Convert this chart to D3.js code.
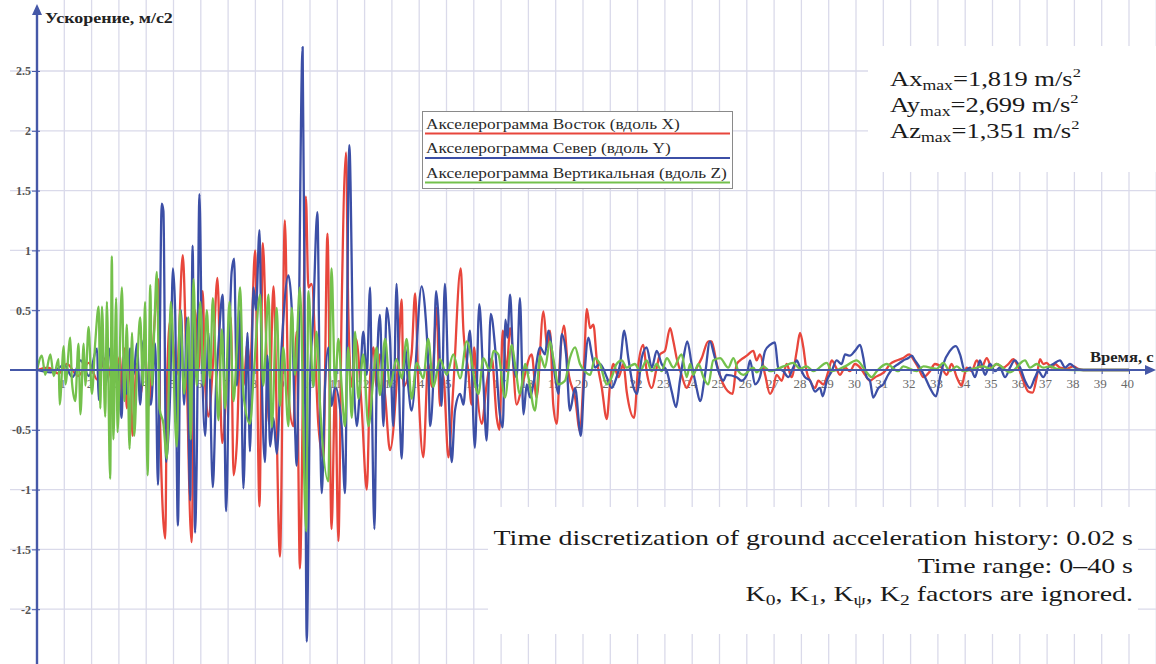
<!DOCTYPE html>
<html>
<head>
<meta charset="utf-8">
<script src="https://cdn.jsdelivr.net/npm/d3@7"></script>
<style>
  body { margin: 0; background: #fff; }
  svg { display: block; }
  svg text { font-family: "Liberation Serif", "Tinos", "DejaVu Serif", serif; }
</style>
</head>
<body>
<svg id="chart"></svg>
<script>
// accelerograms, turning points: [time s, acceleration m/s2]
var eastX = [[0,0],[0.4,0.02],[0.8,-0.03],[1.1,0.05],[1.5,-0.05],[1.9,0.06],[2.2,-0.08],[2.5,0.1],[2.8,-0.12],[3.05,0.12],[3.11,-0.26],[3.21,0.18],[3.29,-0.32],[3.4,0.1],[3.5,-0.55],[3.65,0.05],[3.8,-0.2],[3.95,0.15],[4.1,-0.3],[4.25,0.2],[4.45,0.76],[4.51,-0.45],[4.7,-1.41],[4.76,-0.13],[4.88,0.41],[5.12,-0.04],[5.34,0.96],[5.46,0.18],[5.66,-1.44],[5.79,0.5],[5.91,-0.01],[6.07,0.66],[6.16,-0.13],[6.28,-0.39],[6.44,0.03],[6.61,0.77],[6.78,-0.61],[6.98,0.0],[7.1,0.44],[7.2,-0.88],[7.32,-0.61],[7.46,0.31],[7.56,-0.13],[7.71,0.22],[7.8,0.0],[7.99,1.0],[8.15,-1.14],[8.27,1.06],[8.41,0.12],[8.5,-0.45],[8.66,0.7],[8.9,-1.56],[9.08,1.25],[9.21,-0.21],[9.39,-0.47],[9.51,0.32],[9.63,-1.66],[9.85,1.45],[9.94,0.69],[10.06,0.72],[10.31,-0.47],[10.49,-0.74],[10.64,1.14],[10.79,-1.33],[10.92,-0.14],[11.04,-1.43],[11.16,0.52],[11.32,1.82],[11.4,0.52],[11.53,-0.14],[11.69,0.26],[11.89,-0.3],[12.08,-1.0],[12.2,-0.07],[12.32,0.19],[12.44,-0.14],[12.56,0.13],[12.75,-0.21],[12.93,-0.67],[13.24,0.13],[13.36,0.59],[13.42,-0.14],[13.72,0.13],[13.85,0.64],[13.97,-0.14],[14.15,-0.73],[14.33,0.06],[14.46,-0.14],[14.64,0.52],[14.76,-0.3],[14.88,-0.04],[15.07,-0.73],[15.25,-0.14],[15.52,0.85],[15.62,0.33],[15.8,-0.01],[15.92,-0.29],[16.01,0.19],[16.11,-0.15],[16.29,-0.45],[16.47,-0.12],[16.66,0.1],[16.84,-0.4],[16.94,-0.5],[17.06,0.33],[17.2,-0.01],[17.33,0.35],[17.57,-0.29],[17.75,-0.15],[18.12,0.13],[18.3,-0.23],[18.55,0.49],[18.69,0.19],[18.79,0.33],[18.91,-0.29],[19.04,-0.45],[19.16,0.1],[19.3,0.37],[19.46,-0.01],[19.71,-0.23],[19.89,-0.51],[20.04,0.05],[20.14,0.51],[20.26,0.35],[20.38,0.38],[20.5,0.1],[20.69,-0.15],[20.87,-0.41],[20.99,-0.12],[21.11,0.05],[21.3,-0.06],[21.48,0.05],[21.6,-0.18],[21.87,-0.4],[22.03,0.05],[22.21,0.21],[22.33,-0.01],[22.52,-0.15],[22.7,0.02],[22.82,0.13],[23.0,0.16],[23.19,0.35],[23.31,0.24],[23.43,0.1],[23.61,-0.04],[23.8,-0.15],[23.98,-0.06],[24.35,0.1],[24.59,0.24],[24.71,0.24],[24.9,0.05],[25.14,-0.12],[25.48,-0.2],[25.63,0.05],[25.81,0.09],[26.0,0.12],[26.24,0.16],[26.36,0.08],[26.48,0.13],[26.67,-0.04],[26.85,-0.2],[26.97,-0.15],[27.09,-0.04],[27.28,-0.09],[27.46,0.05],[27.64,-0.06],[27.83,0.16],[27.95,0.31],[28.07,0.19],[28.19,-0.01],[28.32,-0.09],[28.5,-0.15],[28.62,-0.09],[28.8,-0.12],[28.99,-0.01],[29.11,0.08],[29.27,0.02],[29.41,-0.04],[29.6,0.02],[29.78,-0.01],[29.96,0.05],[30.15,0.02],[30.33,-0.04],[30.51,-0.09],[30.7,-0.06],[30.88,-0.04],[31.06,-0.01],[31.25,0.05],[31.49,0.08],[31.73,0.1],[31.95,0.13],[32.1,0.09],[32.28,0.02],[32.47,-0.06],[32.71,-0.01],[32.89,0.05],[33.14,0.02],[33.32,-0.04],[33.5,0.05],[33.69,-0.06],[33.87,-0.13],[34.05,0.02],[34.24,-0.01],[34.42,0.08],[34.6,0.02],[34.79,0.1],[34.97,0.02],[35.15,0.05],[35.4,0.02],[35.58,0.05],[35.76,0.09],[35.95,0.02],[36.13,-0.09],[36.31,-0.18],[36.47,-0.19],[36.62,-0.06],[36.74,0.09],[36.86,0.05],[36.98,0.06],[37.17,0.02],[37.29,0.05],[37.47,0.02],[37.72,0.01],[37.96,0.03],[38.14,0.01],[38.33,0],[40,0]];

var northY = [[0,0],[0.5,-0.02],[1.0,0.04],[1.3,-0.06],[1.6,0.08],[1.9,-0.05],[2.2,0.18],[2.26,-0.25],[2.38,0.22],[2.5,-0.13],[2.68,0.18],[2.8,-0.13],[2.95,0.05],[3.1,-0.4],[3.17,0.12],[3.29,-0.2],[3.41,0.18],[3.54,-0.04],[3.66,0.22],[3.78,-0.29],[3.9,0.25],[4.02,-0.07],[4.17,-0.29],[4.33,0.22],[4.43,-0.96],[4.57,1.39],[4.63,1.33],[4.73,-0.77],[4.88,-0.17],[4.98,0.85],[5.06,0.5],[5.16,-1.3],[5.27,0.5],[5.39,-0.29],[5.49,0.44],[5.61,-1.09],[5.7,1.04],[5.79,-1.36],[5.85,-0.77],[5.95,1.47],[6.04,0.18],[6.16,-0.55],[6.28,0.31],[6.44,-0.98],[6.56,-0.13],[6.65,0.22],[6.8,0.63],[6.93,-1.18],[7.05,0.28],[7.13,0.82],[7.22,0.93],[7.32,-0.13],[7.44,0.5],[7.56,-0.99],[7.71,0.31],[7.8,-0.68],[7.93,0.69],[8.02,0.5],[8.15,1.17],[8.23,-0.01],[8.35,-0.77],[8.44,0.12],[8.54,-0.64],[8.66,-0.4],[8.78,-0.7],[8.96,0.19],[9.21,0.79],[9.33,0.52],[9.45,-0.47],[9.51,-0.8],[9.73,2.7],[9.82,-0.14],[9.88,-2.27],[10.0,-0.14],[10.12,0.46],[10.27,1.32],[10.37,-0.47],[10.43,-1.03],[10.55,-0.14],[10.67,0.19],[10.79,-0.3],[10.92,-0.14],[11.16,-0.47],[11.28,-1.03],[11.44,1.88],[11.59,0.03],[11.71,-0.47],[11.83,-0.14],[11.95,0.32],[12.08,-0.04],[12.2,0.69],[12.26,-0.14],[12.36,-1.33],[12.44,-0.14],[12.56,0.46],[12.69,-0.47],[12.81,0.52],[12.93,0.26],[13.05,-0.47],[13.17,0.72],[13.3,-0.47],[13.36,-0.74],[13.48,0.19],[13.6,-0.14],[13.72,-0.34],[14.09,0.7],[14.21,0.52],[14.34,-0.01],[14.4,-0.47],[14.52,-0.07],[14.62,0.66],[14.7,0.46],[14.82,-0.3],[14.94,0.72],[15.07,-0.14],[15.19,-0.77],[15.31,-0.34],[15.5,-0.2],[15.62,-0.29],[15.74,0.05],[15.86,0.33],[16.04,-0.65],[16.2,0.55],[16.35,-0.09],[16.47,-0.59],[16.62,0.47],[16.78,0.19],[16.94,-0.34],[17.06,-0.48],[17.16,0.42],[17.23,0.27],[17.33,0.63],[17.45,0.05],[17.57,-0.06],[17.69,0.6],[17.82,-0.37],[17.94,-0.12],[18.06,-0.23],[18.18,-0.12],[18.43,0.19],[18.61,0.13],[18.73,0.33],[18.98,-0.06],[19.1,-0.2],[19.22,0.3],[19.38,0.13],[19.52,-0.34],[19.71,-0.15],[19.92,-0.55],[20.04,-0.09],[20.2,0.27],[20.32,0.13],[20.44,0.02],[20.62,0.05],[20.87,-0.06],[21.05,-0.15],[21.23,-0.06],[21.36,0.05],[21.51,0.33],[21.66,0.1],[21.82,-0.12],[21.97,-0.2],[22.15,0.1],[22.33,0.19],[22.52,0.02],[22.7,0.16],[22.88,0.05],[23.07,-0.01],[23.25,-0.18],[23.41,-0.31],[23.55,-0.09],[23.68,0.1],[23.82,0.24],[23.98,0.05],[24.16,-0.15],[24.29,-0.26],[24.47,-0.04],[24.65,0.24],[24.8,0.13],[24.96,-0.01],[25.14,-0.09],[25.26,-0.04],[25.63,-0.06],[25.81,-0.09],[26.0,-0.04],[26.12,0.08],[26.3,-0.12],[26.48,-0.06],[26.67,0.16],[26.85,0.21],[27.03,0.23],[27.15,0.02],[27.34,-0.01],[27.52,-0.06],[27.7,0.02],[27.83,0.08],[27.95,0.02],[28.13,-0.06],[28.32,-0.09],[28.5,-0.18],[28.68,-0.15],[28.78,-0.22],[28.93,-0.09],[29.11,-0.01],[29.29,0.08],[29.47,0.05],[29.6,0.13],[29.78,0.12],[29.96,0.16],[30.15,0.21],[30.27,0.1],[30.39,-0.06],[30.51,-0.09],[30.63,-0.23],[30.82,-0.15],[31.0,-0.12],[31.18,-0.04],[31.37,0.02],[31.55,0.05],[31.73,0.08],[31.92,0.1],[32.04,0.12],[32.16,0.08],[32.34,0.02],[32.53,-0.06],[32.71,-0.15],[32.93,-0.22],[33.08,-0.06],[33.2,0.05],[33.44,0.16],[33.66,0.2],[33.81,0.13],[33.99,-0.01],[34.18,0.02],[34.36,-0.06],[34.54,0.08],[34.73,-0.04],[34.91,0.05],[35.09,-0.01],[35.27,0.02],[35.46,-0.06],[35.64,0.02],[35.82,0.08],[36.01,0.02],[36.19,-0.09],[36.37,-0.15],[36.56,-0.06],[36.68,-0.01],[36.86,-0.06],[37.04,0.02],[37.23,0.05],[37.47,0.08],[37.66,0.02],[37.84,0.05],[38.08,0.01],[38.33,0],[40,0]];

var vertZ = [[0,0],[0.18,0.12],[0.3,-0.04],[0.49,0.13],[0.61,-0.05],[0.79,0.09],[0.83,-0.29],[0.98,0.2],[1.04,-0.12],[1.22,0.27],[1.28,-0.1],[1.4,-0.26],[1.52,0.22],[1.59,-0.37],[1.71,0.22],[1.77,-0.13],[1.89,0.36],[2.01,-0.2],[2.13,0.22],[2.26,0.53],[2.32,-0.32],[2.38,0.53],[2.5,-0.39],[2.56,0.57],[2.68,-0.91],[2.74,0.95],[2.8,-0.58],[2.9,0.6],[2.95,-0.52],[3.11,0.69],[3.2,-0.26],[3.29,0.38],[3.39,-0.66],[3.48,0.31],[3.56,-0.55],[3.68,0.09],[3.78,0.44],[3.88,-0.13],[3.96,0.57],[4.05,-0.88],[4.15,0.71],[4.21,-0.13],[4.29,0.31],[4.39,0.82],[4.49,-0.32],[4.63,-0.45],[4.76,-0.74],[4.9,0.57],[5.12,-0.64],[5.24,0.5],[5.39,-0.2],[5.55,0.44],[5.63,-0.58],[5.73,0.76],[5.85,-0.13],[5.98,0.57],[6.1,-0.13],[6.22,0.5],[6.34,-0.07],[6.44,0.6],[6.56,-0.04],[6.65,-0.42],[6.77,0.34],[6.89,-0.32],[7.05,0.57],[7.2,-0.26],[7.32,0.18],[7.44,0.69],[7.56,-0.2],[7.8,-0.45],[7.95,0.0],[8.17,0.63],[8.29,-0.13],[8.48,0.63],[8.6,-0.48],[8.78,0.52],[8.9,-0.3],[9.02,0.19],[9.21,-0.47],[9.33,0.52],[9.45,-0.04],[9.63,0.69],[9.86,-1.35],[9.94,0.66],[10.12,-0.14],[10.24,0.32],[10.37,-0.3],[10.67,-0.93],[10.79,0.85],[10.92,-0.14],[11.04,0.26],[11.16,-0.14],[11.28,-0.47],[11.4,0.19],[11.53,-0.4],[11.65,0.32],[11.77,-0.24],[11.95,0.13],[12.14,-0.47],[12.32,-0.07],[12.44,0.19],[12.56,-0.21],[12.75,0.26],[12.93,-0.14],[13.17,0.09],[13.36,-0.07],[13.54,0.26],[13.72,-0.24],[13.91,0.06],[14.15,-0.07],[14.33,0.26],[14.52,-0.14],[14.76,0.09],[15.01,-0.04],[15.25,0.13],[15.5,-0.07],[15.74,0.24],[16.17,-0.2],[16.35,0.1],[16.59,-0.01],[16.72,0.16],[16.9,0.13],[17.14,-0.23],[17.39,0.21],[17.51,0.05],[17.69,-0.2],[17.88,0.05],[18.0,-0.06],[18.24,-0.34],[18.43,0.12],[18.61,0.02],[18.79,0.24],[18.91,0.1],[19.1,-0.12],[19.34,-0.09],[19.52,0.1],[19.71,0.19],[19.89,0.05],[20.07,-0.01],[20.26,-0.04],[20.44,0.1],[20.62,0.05],[20.87,-0.12],[21.05,-0.06],[21.23,0.05],[21.42,0.08],[21.6,0.02],[21.9,0.05],[22.09,-0.01],[22.33,0.08],[22.52,-0.01],[22.7,0.05],[22.88,-0.01],[23.07,0.1],[23.31,0.02],[23.61,0.13],[23.8,-0.06],[23.92,0.05],[24.04,-0.04],[24.23,0.05],[24.41,-0.06],[24.59,-0.12],[24.77,0.08],[25.02,0.1],[25.32,0.02],[25.51,0.1],[25.69,-0.01],[25.87,-0.04],[26.24,0.02],[26.36,-0.02],[26.61,0.03],[26.85,-0.01],[27.34,0.03],[27.7,0.06],[27.95,0.01],[28.19,0.03],[28.44,-0.01],[28.93,0.06],[29.11,-0.01],[29.6,0.03],[30.02,0.08],[30.39,-0.02],[30.57,-0.06],[30.76,-0.01],[31.12,0.05],[31.55,-0.01],[31.73,0.03],[32.22,-0.01],[32.47,0.03],[32.95,0.01],[33.2,0.06],[33.44,-0.01],[33.69,0.03],[33.93,-0.01],[34.66,0.03],[34.91,0.01],[35.15,0.05],[35.64,-0.02],[36.19,0.08],[36.37,0.02],[36.62,0.05],[36.86,0.02],[37.11,0.03],[37.35,0.01],[38,0],[40,0]];

var seriesNames = ["Акселерограмма Восток (вдоль X)", "Акселерограмма Север (вдоль Y)", "Акселерограмма Вертикальная (вдоль Z)"];
var seriesColors = ["#e8463c", "#3c4fa6", "#74c14c"];

var yTicks = [2.5, 2, 1.5, 1, 0.5, -0.5, -1, -1.5, -2];
var yGrid = [2.5, 2, 1.5, 1, 0.5, -0.5, -1, -1.5, -2];
var xTicks = d3.range(1, 41);

var maxLines = [["Ax", "1,819"], ["Ay", "2,699"], ["Az", "1,351"]];

var width = 1156;
var height = 664;

var svg = d3.select("#chart")
  .attr("width", width)
  .attr("height", height);

var xScale = d3.scaleLinear()
  .domain([0, 40])
  .range([37, 1129]);

var yScale = d3.scaleLinear()
  .domain([0, 2.5])
  .range([370, 71]);

var gridColor = "#dadaea";
var axisColor = "#4558a8";
var serif = "'Liberation Serif', 'Tinos', 'DejaVu Serif', serif";

// squeeze a text horizontally so it spans the width seen in the picture
var squeeze = function(sel, target, ax){
  var w = sel.node().getBBox().width;
  var s = target / w;
  sel.attr("transform", "translate(" + ax + ",0) scale(" + s + ",1) translate(" + (-ax) + ",0)");
  return s;
};

// grid
svg.append("g").selectAll("line")
  .data(d3.range(1, 42))
  .enter()
  .append("line")
  .attr("x1", function(d){ return xScale(d); })
  .attr("x2", function(d){ return xScale(d); })
  .attr("y1", 0)
  .attr("y2", height)
  .attr("stroke", gridColor)
  .attr("stroke-width", 1.3);

svg.append("g").selectAll("line")
  .data(yGrid)
  .enter()
  .append("line")
  .attr("x1", 10)
  .attr("x2", width)
  .attr("y1", function(d){ return yScale(d); })
  .attr("y2", function(d){ return yScale(d); })
  .attr("stroke", gridColor)
  .attr("stroke-width", 1.3);

// x tick labels (under the traces, like in the original)
var xAxis = d3.axisBottom(xScale)
  .tickValues(xTicks)
  .tickSize(4)
  .tickFormat(d3.format("d"));

var gx = svg.append("g")
  .attr("transform", "translate(0," + yScale(0) + ")")
  .call(xAxis);
gx.attr("font-family", serif);
gx.select(".domain").remove();
gx.selectAll(".tick line").attr("stroke", axisColor);
gx.selectAll(".tick text")
  .attr("y", 9)
  .attr("dx", -2)
  .attr("fill", "#6a6a6a")
  .style("font-size", "13px");

// traces
var line = d3.line()
  .x(function(d){ return xScale(d[0]); })
  .y(function(d){ return yScale(d[1]); })
  .curve(d3.curveMonotoneX);

[eastX, northY, vertZ].forEach(function(s, i){
  svg.append("path")
    .datum(s)
    .attr("d", line)
    .attr("fill", "none")
    .attr("stroke", seriesColors[i])
    .attr("stroke-width", 2.3)
    .attr("stroke-linejoin", "round");
});

// axes with arrows
svg.append("line")
  .attr("x1", 10).attr("x2", 1148)
  .attr("y1", yScale(0)).attr("y2", yScale(0))
  .attr("stroke", axisColor).attr("stroke-width", 2);
svg.append("path")
  .attr("d", "M1156," + yScale(0) + " L1145," + (yScale(0) - 5) + " L1145," + (yScale(0) + 5) + " Z")
  .attr("fill", axisColor);

svg.append("line")
  .attr("x1", xScale(0)).attr("x2", xScale(0))
  .attr("y1", height).attr("y2", 14)
  .attr("stroke", axisColor).attr("stroke-width", 2.4);
svg.append("path")
  .attr("d", "M" + xScale(0) + ",4 L" + (xScale(0) - 5) + ",15 L" + (xScale(0) + 5) + ",15 Z")
  .attr("fill", axisColor);

var yAxis = d3.axisLeft(yScale)
  .tickValues(yTicks)
  .tickSize(5)
  .tickFormat(function(d){ return String(d); });

var gy = svg.append("g")
  .attr("transform", "translate(" + (xScale(0) + 3) + ",0)")
  .call(yAxis);
gy.attr("font-family", serif);
gy.select(".domain").remove();
gy.selectAll(".tick line").attr("stroke", axisColor).attr("x2", -8);
gy.selectAll(".tick text")
  .attr("x", -9)
  .attr("fill", "#555")
  .style("font-size", "12px")
  .style("font-weight", "bold");

var yTitle = svg.append("text")
  .attr("x", 45).attr("y", 23)
  .attr("font-size", 15).attr("font-weight", "bold")
  .attr("fill", "#222")
  .text("Ускорение, м/с2");
var titleSqueeze = squeeze(yTitle, 128, 45);

var xTitle = svg.append("text")
  .attr("x", 1090).attr("y", 362)
  .attr("font-size", 15).attr("font-weight", "bold")
  .attr("fill", "#222")
  .text("Время, с");
squeeze(xTitle, 64, 1090);

// legend
var legend = svg.append("g");
legend.append("rect")
  .attr("x", 422.5).attr("y", 111.5)
  .attr("width", 310).attr("height", 77)
  .attr("fill", "#fff")
  .attr("stroke", "#8a8a8a")
  .attr("stroke-width", 1);

var legendTexts = [];
seriesNames.forEach(function(name, i){
  legendTexts.push(legend.append("text")
    .attr("x", 426)
    .attr("y", 129 + i * 24.5)
    .attr("font-size", 15)
    .attr("fill", "#2a2a2a")
    .text(name));
  legend.append("line")
    .attr("x1", 425).attr("x2", 730)
    .attr("y1", 133.5 + i * 24.5).attr("y2", 133.5 + i * 24.5)
    .attr("stroke", seriesColors[i])
    .attr("stroke-width", 2);
});
var legendW = legendTexts[2].node().getBBox().width;
legendTexts.forEach(function(t){
  var w = t.node().getBBox().width;
  squeeze(t, w * 301 / legendW, 426);
});

// max value box
svg.append("rect")
  .attr("x", 868).attr("y", 46)
  .attr("width", 288).attr("height", 126)
  .attr("fill", "#fff");

var maxTexts = [];
maxLines.forEach(function(m, i){
  var t = svg.append("text")
    .attr("x", 890)
    .attr("y", 86 + i * 26)
    .attr("font-size", 21)
    .attr("fill", "#1a1a1a");
  t.append("tspan").text(m[0]);
  t.append("tspan").attr("font-size", 14).attr("dy", 4).text("max");
  t.append("tspan").attr("dy", -4).text("=" + m[1] + " m/s");
  t.append("tspan").attr("font-size", 13).attr("dy", -9).text("2");
  maxTexts.push(t);
});
var maxW = maxTexts[0].node().getBBox().width;
maxTexts.forEach(function(t){
  var w = t.node().getBBox().width;
  squeeze(t, w * 191 / maxW, 890);
});

// notes box
svg.append("rect")
  .attr("x", 488).attr("y", 507)
  .attr("width", 650).attr("height", 127)
  .attr("fill", "#fff");

var notes = svg.append("g")
  .attr("fill", "#1a1a1a")
  .attr("text-anchor", "end");

var nfs = 20;
var note1 = notes.append("text").attr("x", 1133).attr("y", 545)
  .attr("font-size", nfs)
  .text("Time discretization of ground acceleration history: 0.02 s");
var note2 = notes.append("text").attr("x", 1133).attr("y", 573)
  .attr("font-size", nfs)
  .text("Time range: 0–40 s");

var k = notes.append("text").attr("x", 1133).attr("y", 601).attr("font-size", nfs);
var kParts = [["K", "0"], ["K", "1"], ["K", "ψ"], ["K", "2"]];
kParts.forEach(function(p, i){
  k.append("tspan").attr("dy", i === 0 ? 0 : -4).text((i === 0 ? "" : ", ") + p[0]);
  k.append("tspan").attr("font-size", 14).attr("dy", 4).text(p[1]);
});
k.append("tspan").attr("dy", -4).text(" factors are ignored.");

var noteW = note1.node().getBBox().width;
[note1, note2, k].forEach(function(t){
  var w = t.node().getBBox().width;
  squeeze(t, w * 640 / noteW, 1133);
});
</script>
</body>
</html>
